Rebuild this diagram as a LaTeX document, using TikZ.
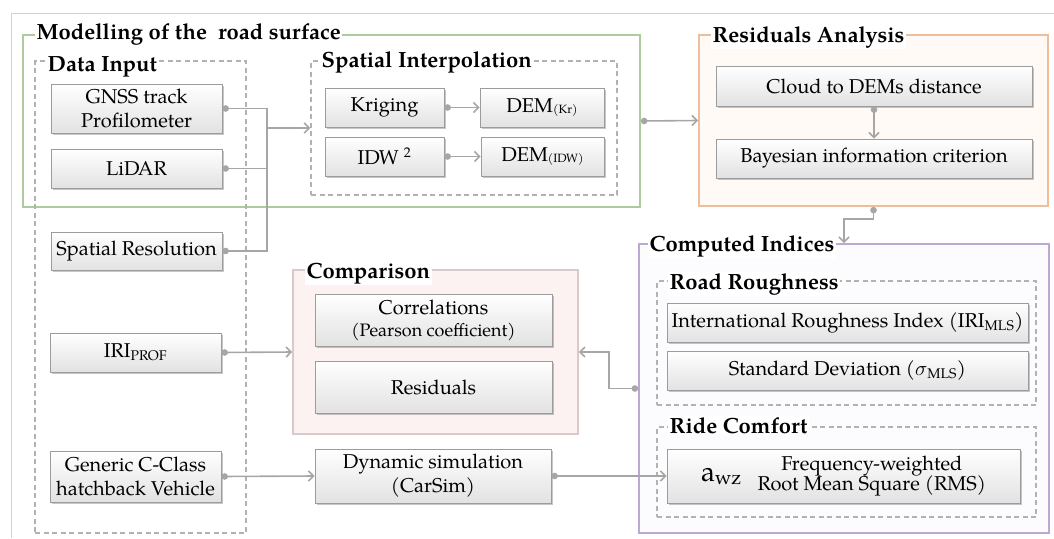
\documentclass[tikz,border=0pt]{standalone}
\usepackage{fontspec}
\setmainfont{TeX Gyre Pagella}
\usetikzlibrary{arrows.meta,shadows,fit}
\definecolor{conn}{HTML}{A6A6A6}
\definecolor{boxline}{HTML}{9C9C9C}
\definecolor{boxbot}{HTML}{E2E2E2}
\definecolor{greenln}{HTML}{AECB9F}
\definecolor{orangeln}{HTML}{EDBE9C}
\definecolor{orangefill}{HTML}{FFFAF6}
\definecolor{purpleln}{HTML}{BCA8D2}
\definecolor{purplefill}{HTML}{FCFBFD}
\definecolor{pinkln}{HTML}{D8CACA}
\definecolor{pinkfill}{HTML}{FDF2F2}
\definecolor{dashln}{HTML}{B2B2B2}
\definecolor{frameln}{HTML}{D2D2D2}
\newcommand\bxfont{\fontsize{20}{24}\selectfont}
\newcommand\ttlfont{\bfseries\fontsize{22}{24}\selectfont}
\newcommand\smallsub[1]{{\fontsize{12}{12}\selectfont\raisebox{-1.5pt}{#1}}}
\begin{document}
\begin{tikzpicture}[x=1pt,y=-1pt,
  box/.style={draw=boxline, line width=0.8pt, top color=white, bottom color=boxbot,
    drop shadow={shadow xshift=1.8pt, shadow yshift=-1.8pt, opacity=0.22, fill=black},
    inner sep=0pt, align=center, font=\bxfont},
  cont/.style={line width=1.8pt, inner sep=0pt},
  dbox/.style={draw=dashln, line width=1.4pt, dash pattern=on 5pt off 3.5pt, inner sep=0pt},
  ttl/.style={font=\ttlfont, fill=white, inner xsep=1.5pt, inner ysep=1pt, anchor=base west},
  wire/.style={draw=conn, line width=1.6pt, {Circle[length=6.5pt]}-},
  arr/.style={draw=conn, line width=1.6pt, -{Straight Barb[length=5pt,width=10pt]}},
  darr/.style={draw=conn, line width=1.6pt, {Circle[length=6.5pt]}-{Straight Barb[length=5pt,width=10pt]}}
]
\useasboundingbox (0,0) rectangle (1054,538);
% outer frame lines
\draw[frameln, line width=0.8pt] (1054,13) -- (11,13) -- (11,538);

% containers
\node[cont, draw=greenln, fit={(23,35)(640,207)}] (mod) {};
\node[dbox, fit={(35,61)(246,533)}] (din) {};
\node[dbox, fit={(311,61)(617,195)}] (si) {};
\node[cont, draw=orangeln, fill=orangefill, fit={(699,35)(1048,206)}] (res) {};
\node[cont, draw=purpleln, fill=purplefill, fit={(639,244)(1049,533)}] (ci) {};
\node[dbox, fit={(657,281)(1036,405)}] (rr) {};
\node[dbox, fit={(657,427)(1036,517)}] (rc) {};
\node[cont, draw=pinkln, fill=pinkfill, line width=1.6pt, fit={(293,270)(578,434)}] (cmp) {};

% titles
\node[ttl] (tmod) at (35,39) {Modelling of the \ road surface};
\node[ttl] (tdin) at (46,71) {Data Input};
\node[ttl] (tsi) at (320,67) {Spatial Interpolation};
\node[ttl] (tres) at (711,42) {Residuals Analysis};
\node[ttl] (tci) at (648,251) {Computed Indices};
\node[ttl] (trr) at (668,289) {Road Roughness};
\node[ttl] (trc) at (668,433) {Ride Comfort};
\node[ttl] (tcmp) at (305,278) {Comparison};

% boxes
\node[box, minimum width=171, minimum height=49] (gnss) at (136.5,108.5) {GNSS track\\Profilometer};
\node[box, minimum width=171, minimum height=39] (lidar) at (136.5,168.5) {LiDAR};
\node[box, minimum width=171, minimum height=38] (sres) at (136.5,251) {Spatial Resolution};
\node[box, minimum width=171, minimum height=39] (iri) at (135.5,352.5) {IRI\textsubscript{PROF}};
\node[box, minimum width=171, minimum height=51] (gen) at (135.5,476.5) {Generic C-Class\\hatchback Vehicle};

\node[box, minimum width=119, minimum height=39] (krig) at (384.5,107.5) {Kriging};
\node[box, minimum width=119, minimum height=39] (idw) at (384.5,156.5) {IDW \textsuperscript{2}};
\node[box, minimum width=124, minimum height=39] (demkr) at (542,107.5) {DEM\smallsub{(Kr)}};
\node[box, minimum width=123, minimum height=39] (demidw) at (542.5,156.5) {DEM\smallsub{(IDW)}};

\node[box, minimum width=316, minimum height=40] (cloud) at (874,86) {Cloud to DEMs distance};
\node[box, minimum width=316, minimum height=39] (bic) at (874,158.5) {Bayesian information criterion};

\node[box, minimum width=361, minimum height=39] (irimls) at (847.5,322.5) {International Roughness Index (IRI\textsubscript{MLS})};
\node[box, minimum width=361, minimum height=39] (sd) at (847.5,370.5) {Standard Deviation ($\sigma$\textsubscript{MLS})};
\node[box, minimum width=353, minimum height=54] (awz) at (843.5,476) {{\fontsize{28}{28}\selectfont a\textsubscript{wz}}\hspace{16pt}\begin{tabular}{@{}c@{}}Frequency-weighted\\[-4pt]Root Mean Square (RMS)\end{tabular}};

\node[box, minimum width=237, minimum height=52] (corr) at (433.5,320) {Correlations\\[-2pt]{\fontsize{18}{20}\selectfont(Pearson coefficient)}};
\node[box, minimum width=237, minimum height=52] (resid) at (433.5,387) {Residuals};
\node[box, minimum width=236, minimum height=54] (dyn) at (433,476) {Dynamic simulation\\(CarSim)};

% connectors
\coordinate (J) at (267,128);
\draw[wire] (gnss.east) -| (J);
\draw[wire] (lidar.east) -| (J);
\draw[wire] (sres.east) -| (J);
\draw[arr] (J) -- (si.west);

\draw[darr] (krig.east) -- (demkr.west);
\draw[darr] (idw.east) -- (demidw.west);
\draw[darr] (mod.east) -- (res.west);
\draw[darr] (cloud.south) -- (bic.north);
\draw[darr] (res.south) -- ++(0,12) -| (ci.north);
\draw[darr] (ci.west) -- ++(-29,0) |- (cmp.east);
\draw[darr] (iri.east) -- (cmp.west);
\draw[darr] (gen.east) -- (dyn.west);
\draw[darr] (dyn.east) -- (awz.west);
\end{tikzpicture}
\end{document}
